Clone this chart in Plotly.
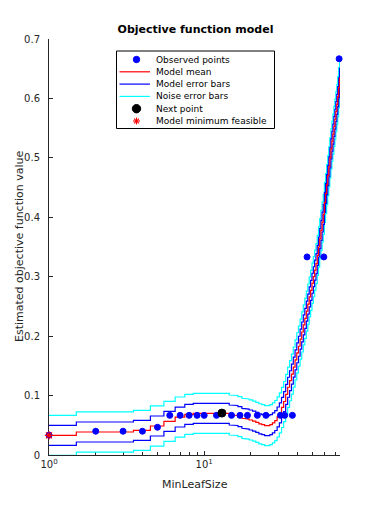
import plotly.graph_objects as go

# ---------------- data ----------------
leaf_sizes = list(range(1, 76))
model_mean = [
    0.0331, 0.0387, 0.0387, 0.0415, 0.0488, 0.0567, 0.0639, 0.0684, 0.0700, 0.0702,
    0.0703, 0.0703, 0.0702, 0.0700, 0.0673, 0.0665, 0.0645, 0.0617, 0.0605, 0.0589,
    0.0570, 0.0550, 0.0525, 0.0510, 0.0494, 0.0494, 0.0510, 0.0540, 0.0580, 0.0640,
    0.0710, 0.0800, 0.0900, 0.1020, 0.1140, 0.1250, 0.1360, 0.1480, 0.1600, 0.1720,
    0.1830, 0.1950, 0.2070, 0.2190, 0.2300, 0.2420, 0.2540, 0.2660, 0.2770, 0.2890,
    0.3000, 0.3110, 0.3220, 0.3360, 0.3500, 0.3640, 0.3780, 0.3920, 0.4050, 0.4250,
    0.4400, 0.4550, 0.4700, 0.4850, 0.5000, 0.5150, 0.5280, 0.5400, 0.5530, 0.5650,
    0.5780, 0.5900, 0.6030, 0.6180, 0.6340,
]
model_half_width = 0.0168
noise_half_width = 0.0337

obs_x = [1, 2, 3, 4, 5, 6, 7, 8, 9, 10, 12, 15, 17, 19, 22, 25, 31, 33, 37, 46, 59, 74]
obs_y = [0.0333, 0.0400, 0.0400, 0.0400, 0.0467] + [0.0667] * 14 + [0.3333, 0.3333, 0.6667]

next_x = [13]
next_y = [0.0705]

minfeas_x = [1]
minfeas_y = [0.0331]

x_min, x_max = 1, 75
y_ticks = [0, 0.1, 0.2, 0.3, 0.4, 0.5, 0.6, 0.7]
x_major = [1, 10]
x_major_text = ["10<sup>0</sup>", "10<sup>1</sup>"]
x_minor = [2, 3, 4, 5, 6, 7, 8, 9, 20, 30, 40, 50, 60, 70]

legend_labels = ["Observed points", "Model mean", "Model error bars",
                 "Noise error bars", "Next point", "Model minimum feasible"]

# ---------------- step construction ----------------
def steps(values):
    xs, ys = [], []
    for n, v in zip(leaf_sizes, values):
        a = max(x_min, n - 0.5)
        b = min(x_max, n + 0.5)
        xs += [a, b]
        ys += [v, v]
    return xs, ys

BLUE = "#0000ff"
RED = "#ff0000"
CYAN = "#00ffff"
AX = "#262626"
LW = 1.2

fig = go.Figure()

curves = [
    ([m + noise_half_width for m in model_mean], CYAN),
    ([m - noise_half_width for m in model_mean], CYAN),
    ([m + model_half_width for m in model_mean], BLUE),
    ([m - model_half_width for m in model_mean], BLUE),
    (model_mean, RED),
]
for vals, col in curves:
    sx, sy = steps(vals)
    fig.add_trace(go.Scatter(x=sx, y=sy, mode="lines",
                             line=dict(color=col, width=LW), showlegend=False,
                             hoverinfo="skip"))

fig.add_trace(go.Scatter(x=obs_x, y=obs_y, mode="markers", cliponaxis=False,
                         marker=dict(color=BLUE, size=6, line=dict(color=BLUE, width=1)),
                         showlegend=False))
fig.add_trace(go.Scatter(x=next_x, y=next_y, mode="markers", cliponaxis=False,
                         marker=dict(color="black", size=8, line=dict(color="black", width=1)),
                         showlegend=False))
fig.add_trace(go.Scatter(x=minfeas_x, y=minfeas_y, mode="markers", cliponaxis=False,
                         marker=dict(symbol="asterisk", color=RED, size=7,
                                     line=dict(color=RED, width=1.1)),
                         showlegend=False))

# ---------------- layout ----------------
# The page body has an 8px margin, so the figure is sized/offset to keep the
# plot area at page pixels x 49..340, y 39..455.
OFF = 8
W, H = 377 - 2 * OFF, 512 - 2 * OFF
PX0, PX1, PY0, PY1 = 49, 340, 39, 455
L, T = PX0 - OFF, PY0 - OFF
R = W - (PX1 - OFF)
B = H - (PY1 - OFF)
PW, PH = PX1 - PX0, PY1 - PY0

def px_x(px):
    return (px - PX0) / PW

def px_y(py):
    return (PY1 - py) / PH

FONT = "DejaVu Sans"

annotations = [
    dict(text="Estimated objective function value", x=px_x(19), y=px_y(246),
         xref="paper", yref="paper", textangle=-90, showarrow=False,
         xanchor="center", yanchor="middle", font=dict(size=11, color=AX, family=FONT)),
    dict(text="MinLeafSize", x=px_x(195), y=px_y(484), xref="paper", yref="paper",
         showarrow=False, xanchor="center", yanchor="middle",
         font=dict(size=11, color=AX, family=FONT)),
]
shapes = []

# manual compact legend
box_x0, box_x1, box_y0, box_y1 = 116.5, 274.5, 51, 128.5
shapes.append(dict(type="rect", xref="paper", yref="paper",
                   x0=px_x(box_x0), x1=px_x(box_x1), y0=px_y(box_y1), y1=px_y(box_y0),
                   line=dict(color="black", width=1), fillcolor="white", layer="above"))
row0, row_step = 59.5, 12.3
line_x0, line_x1, mark_x, text_x = 119.5, 150, 136.5, 154
for i, lab in enumerate(legend_labels):
    cy = row0 + i * row_step
    annotations.append(dict(text=lab, x=px_x(text_x), y=px_y(cy), xref="paper", yref="paper",
                            showarrow=False, xanchor="left", yanchor="middle",
                            font=dict(size=9, color="black", family=FONT)))
    if i in (1, 2, 3):
        col = [RED, BLUE, CYAN][i - 1]
        shapes.append(dict(type="line", xref="paper", yref="paper",
                           x0=px_x(line_x0), x1=px_x(line_x1), y0=px_y(cy), y1=px_y(cy),
                           line=dict(color=col, width=LW), layer="above"))
    elif i in (0, 4):
        r = 3.2 if i == 0 else 4.2
        col = BLUE if i == 0 else "black"
        shapes.append(dict(type="circle", xref="paper", yref="paper",
                           x0=px_x(mark_x - r), x1=px_x(mark_x + r),
                           y0=px_y(cy + r), y1=px_y(cy - r),
                           line=dict(color=col, width=1), fillcolor=col, layer="above"))
    else:
        a = 3.5
        for dx, dy in [(a, 0), (0, a), (a * 0.7, a * 0.7), (a * 0.7, -a * 0.7)]:
            shapes.append(dict(type="line", xref="paper", yref="paper",
                               x0=px_x(mark_x - dx), x1=px_x(mark_x + dx),
                               y0=px_y(cy - dy), y1=px_y(cy + dy),
                               line=dict(color=RED, width=1.1), layer="above"))

fig.update_layout(
    width=W, height=H,
    margin=dict(l=L, r=R, t=T, b=B, pad=0),
    paper_bgcolor="white", plot_bgcolor="white",
    font=dict(family=FONT, size=10, color=AX),
    title=dict(text="<b>Objective function model</b>", x=px_x(195.5), xref="paper",
               y=1 - (29 - OFF) / H, yref="container", xanchor="center", yanchor="middle",
               font=dict(size=11, color="black", family=FONT)),
    showlegend=False,
    annotations=annotations,
    shapes=shapes,
    xaxis=dict(type="log", range=[0, 1.8750613], showgrid=False, zeroline=False,
               showline=True, linecolor=AX, linewidth=1, mirror=False,
               ticks="inside", ticklen=4, tickcolor=AX, tickwidth=1,
               tickmode="array", tickvals=x_major, ticktext=x_major_text,
               tickfont=dict(size=10, color=AX, family=FONT),
               minor=dict(tickmode="array", tickvals=x_minor, ticks="inside",
                          ticklen=3, tickcolor=AX, tickwidth=1, showgrid=False),
               layer="below traces", fixedrange=True),
    yaxis=dict(range=[0, 0.7], showgrid=False, zeroline=False,
               showline=True, linecolor=AX, linewidth=1, mirror=False,
               ticks="inside", ticklen=4, tickcolor=AX, tickwidth=1,
               tickmode="array", tickvals=y_ticks,
               ticktext=["0"] + ["%.1f" % v for v in y_ticks[1:]],
               tickfont=dict(size=10, color=AX, family=FONT),
               ticklabelstandoff=6,
               layer="below traces", fixedrange=True),
)

fig.write_html("out.html")
